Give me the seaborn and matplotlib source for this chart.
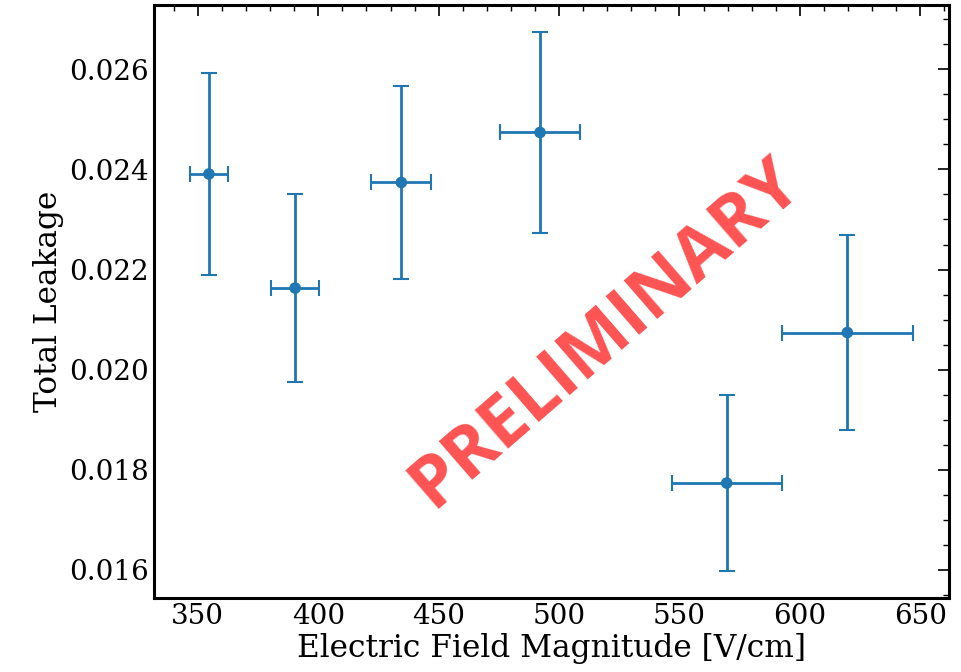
import matplotlib
matplotlib.use('Agg')
import matplotlib.pyplot as plt
import seaborn as sns
import pandas as pd
from matplotlib.ticker import AutoMinorLocator

# data
field = [354.6, 390.4, 434.5, 492.1, 569.6, 619.7]
field_err = [7.9, 9.9, 12.5, 16.6, 22.8, 27.2]
leakage = [0.02391, 0.02163, 0.02374, 0.02474, 0.01773, 0.02074]
leakage_err = [0.00201, 0.00187, 0.00192, 0.00201, 0.00176, 0.00195]

df = pd.DataFrame({'field': field, 'leakage': leakage})

sns.set_style('white')
plt.rcParams['font.family'] = ['DejaVu Serif']
plt.rcParams['text.color'] = 'black'
plt.rcParams['axes.labelcolor'] = 'black'
plt.rcParams['xtick.color'] = 'black'
plt.rcParams['ytick.color'] = 'black'

fig = plt.figure(figsize=(9.61, 6.72), dpi=100)
ax = fig.add_axes([0.160, 0.110, 0.8275, 0.8826])

color = '#1f77b4'
ax.errorbar(field, leakage, xerr=field_err, yerr=leakage_err, fmt='none',
            ecolor=color, elinewidth=2.0, capsize=5.5, capthick=1.5)
sns.scatterplot(data=df, x='field', y='leakage', color=color, s=70,
                edgecolor='none', ax=ax, zorder=3)

ax.xaxis.set_minor_locator(AutoMinorLocator())
ax.yaxis.set_minor_locator(AutoMinorLocator())
ax.tick_params(which='both', direction='in', top=True, right=True,
               labelsize=20, color='black', labelcolor='black')
ax.tick_params(which='major', length=8, width=1.2)
ax.tick_params(which='minor', length=4, width=1.0)
for s in ax.spines.values():
    s.set_linewidth(2.2)
    s.set_color('black')

ax.set_xlabel('Electric Field Magnitude [V/cm]', fontsize=22.5, labelpad=2)
ax.set_ylabel('Total Leakage', fontsize=22.5)

ax.text(0.568, 0.446, 'PRELIMINARY', transform=ax.transAxes, rotation=41,
        ha='center', va='center', fontsize=52, fontweight='bold',
        family=['Open Sans', 'DejaVu Sans'], color='#ff5353', zorder=4)

fig.savefig('out.png', dpi=100)
